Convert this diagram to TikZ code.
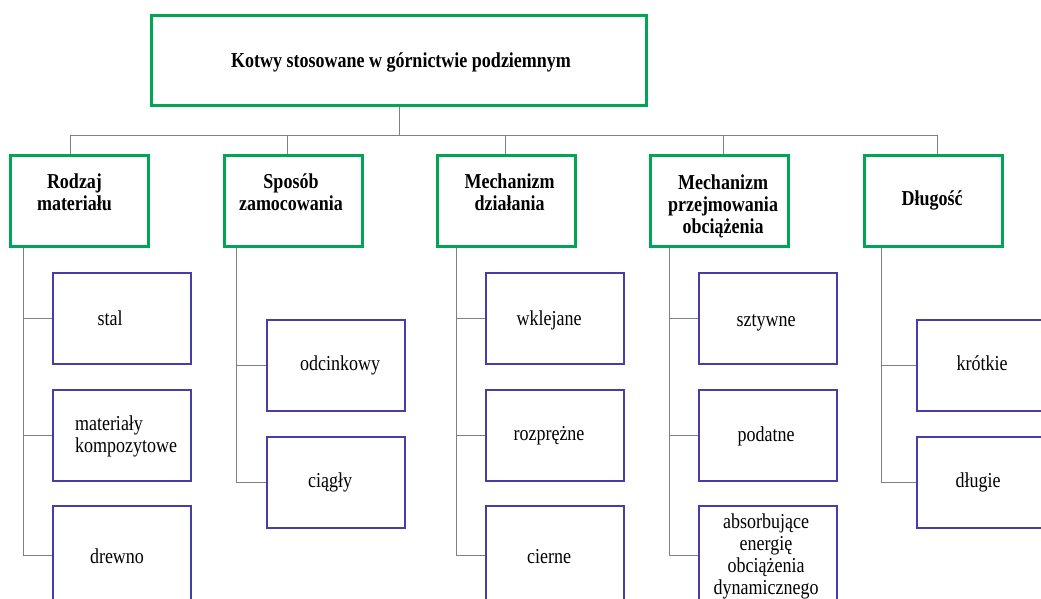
\documentclass[tikz,border=0pt]{standalone}
\usepackage{fontspec}
\usepackage{graphicx}
\newfontfamily\diagserif{Liberation Serif}
\definecolor{boxgreen}{RGB}{0,166,81}
\definecolor{boxblue}{RGB}{72,60,170}
\definecolor{linegray}{RGB}{128,128,128}
\newcommand{\tallc}[1]{\scalebox{1}[1.18]{\begin{tabular}{@{}c@{}}#1\end{tabular}}}
\newcommand{\talll}[1]{\scalebox{1}[1.18]{\begin{tabular}{@{}l@{}}#1\end{tabular}}}
\begin{document}
\begin{tikzpicture}[x=1pt,y=-1pt,
  catbox/.style={draw=boxgreen,line width=3pt,minimum width=138pt,minimum height=91pt,inner sep=0pt},
  topbox/.style={draw=boxgreen,line width=3pt,minimum width=495pt,minimum height=90pt,inner sep=0pt},
  leafbox/.style={draw=boxblue,line width=1.6pt,minimum width=138pt,minimum height=91pt,inner sep=0pt},
  lowbox/.style={leafbox,minimum height=98pt},
  headtxt/.style={font=\diagserif\fontsize{18}{18.6}\selectfont\bfseries,inner sep=0pt},
  leaftxt/.style={font=\diagserif\fontsize{18}{18.6}\selectfont,inner sep=0pt},
  conn/.style={draw=linegray,line width=0.8pt}]
\renewcommand{\arraystretch}{1}
\useasboundingbox (0,0) rectangle (1041,598);
\clip (0,0) rectangle (1041,598);
\fill[white] (0,0) rectangle (1041,598);
% top
\node[topbox] (top) at (399,60.5) {};
\node[headtxt] (toptxt) at (401,63) {\tallc{Kotwy stosowane w górnictwie podziemnym}};
% categories
\node[catbox] (c1) at (79.5,201) {};
\node[catbox] (c2) at (293,201) {};
\node[catbox] (c3) at (506.5,201) {};
\node[catbox] (c4) at (719.5,201) {};
\node[catbox] (c5) at (933,201) {};
\node[headtxt] (t1) at ([xshift=-5pt,yshift=6pt]c1.center) {\tallc{Rodzaj\\materiału}};
\node[headtxt] (t2) at ([xshift=-2pt,yshift=6pt]c2.center) {\tallc{Sposób\\zamocowania}};
\node[headtxt] (t3) at ([xshift=3pt,yshift=6pt]c3.center) {\tallc{Mechanizm\\działania}};
\node[headtxt] (t4) at ([xshift=3.5pt,yshift=-6pt]c4.center) {\tallc{Mechanizm\\przejmowania\\obciążenia}};
\node[headtxt] (t5) at ([xshift=-1pt,yshift=0pt]c5.center) {\tallc{Długość}};
% leaves column 1
\node[leafbox] (a1) at (122,318.5) {};
\node[leafbox] (a2) at (122,435.5) {};
\node[lowbox] (a3) at (122,555) {};
\node[leaftxt] at ([xshift=-12pt,yshift=-3pt]a1.center) {\tallc{stal}};
\node[leaftxt] at ([xshift=4pt,yshift=-2pt]a2.center) {\talll{materiały\\kompozytowe}};
\node[leaftxt] at ([xshift=-5pt,yshift=-4pt]a3.center) {\tallc{drewno}};
% column 2
\node[leafbox] (b1) at (336,365.5) {};
\node[leafbox] (b2) at (336,482.5) {};
\node[leaftxt] at ([xshift=4pt,yshift=-1pt]b1.center) {\tallc{odcinkowy}};
\node[leaftxt] at ([xshift=-6pt,yshift=-1pt]b2.center) {\tallc{ciągły}};
% column 3
\node[leafbox] (d1) at (555,318.5) {};
\node[leafbox] (d2) at (555,435.5) {};
\node[lowbox] (d3) at (555,555) {};
\node[leaftxt] at ([xshift=-6pt,yshift=-3pt]d1.center) {\tallc{wklejane}};
\node[leaftxt] at ([xshift=-6pt,yshift=-1pt]d2.center) {\tallc{rozprężne}};
\node[leaftxt] at ([xshift=-6pt,yshift=-4pt]d3.center) {\tallc{cierne}};
% column 4
\node[leafbox] (e1) at (768,318.5) {};
\node[leafbox] (e2) at (768,435.5) {};
\node[lowbox] (e3) at (768,555) {};
\node[leaftxt] at ([xshift=-2pt,yshift=-4pt]e1.center) {\tallc{sztywne}};
\node[leaftxt] at ([xshift=-2pt,yshift=-2pt]e2.center) {\tallc{podatne}};
\node[leaftxt] (e3t) at ([xshift=-2pt,yshift=-2pt]e3.center) {\tallc{absorbujące\\energię\\obciążenia\\dynamicznego}};
% column 5
\node[leafbox] (f1) at (986,365.5) {};
\node[leafbox] (f2) at (986,482.5) {};
\node[leaftxt] at ([xshift=-4pt,yshift=-1pt]f1.center) {\tallc{krótkie}};
\node[leaftxt] at ([xshift=-8pt,yshift=-1pt]f2.center) {\tallc{długie}};
% connectors top -> categories
\draw[conn] (top.south) -- ++(0,28) -| ([xshift=-9.5pt]c1.north);
\draw[conn] (top.south) -- ++(0,28) -| ([xshift=-6pt]c2.north);
\draw[conn] (top.south) -- ++(0,28) -| ([xshift=-1.5pt]c3.north);
\draw[conn] (top.south) -- ++(0,28) -| ([xshift=3.5pt]c4.north);
\draw[conn] (top.south) -- ++(0,28) -| ([xshift=4pt]c5.north);
% connectors categories -> leaves
\draw[conn] ([xshift=14pt]c1.south west) |- (a1.west);
\draw[conn] ([xshift=14pt]c1.south west) |- (a2.west);
\draw[conn] ([xshift=14pt]c1.south west) |- (a3.west);
\draw[conn] ([xshift=14pt]c2.south west) |- (b1.west);
\draw[conn] ([xshift=14pt]c2.south west) |- (b2.west);
\draw[conn] ([xshift=20pt]c3.south west) |- (d1.west);
\draw[conn] ([xshift=20pt]c3.south west) |- (d2.west);
\draw[conn] ([xshift=20pt]c3.south west) |- (d3.west);
\draw[conn] ([xshift=20pt]c4.south west) |- (e1.west);
\draw[conn] ([xshift=20pt]c4.south west) |- (e2.west);
\draw[conn] ([xshift=20pt]c4.south west) |- (e3.west);
\draw[conn] ([xshift=19pt]c5.south west) |- (f1.west);
\draw[conn] ([xshift=19pt]c5.south west) |- (f2.west);
\end{tikzpicture}
\end{document}
